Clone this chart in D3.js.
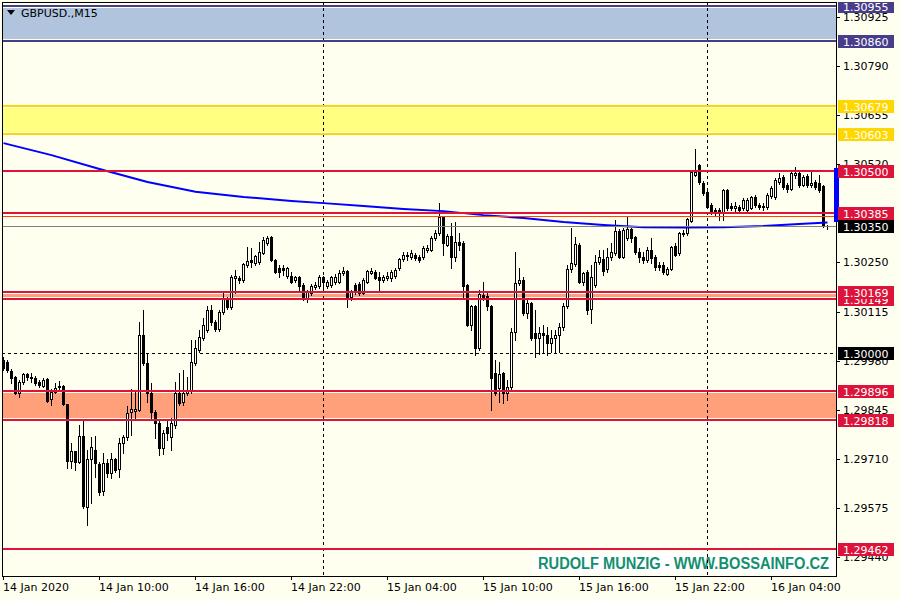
<!DOCTYPE html>
<html><head><meta charset="utf-8">
<script src="https://cdn.jsdelivr.net/npm/d3@7"></script>
<style>html,body{margin:0;padding:0;background:#fffff0;}svg{display:block;}</style>
</head><body>
<svg id="c" width="900" height="600"></svg>
<script>
const symbolTitle = "GBPUSD.,M15";
const opens = [1.29982,1.29976,1.29951,1.29935,1.29891,1.29921,1.29943,1.29932,1.29932,1.29921,
1.29910,1.29929,1.29874,1.29894,1.29907,1.29910,1.29861,1.29704,1.29731,1.29701,
1.29773,1.29577,1.29709,1.29734,1.29696,1.29621,1.29698,1.29671,1.29709,1.29682,
1.29753,1.29770,1.29839,1.29841,1.29844,1.30050,1.29973,1.29891,1.29839,1.29808,
1.29740,1.29797,1.29770,1.29803,1.29891,1.29866,1.29891,1.29899,1.29973,1.30009,
1.30042,1.30064,1.30119,1.30086,1.30067,1.30114,1.30149,1.30127,1.30207,1.30207,
1.30202,1.30243,1.30257,1.30248,1.30251,1.30276,1.30303,1.30320,1.30257,1.30235,
1.30235,1.30213,1.30213,1.30202,1.30210,1.30188,1.30149,1.30166,1.30182,1.30185,
1.30210,1.30185,1.30188,1.30196,1.30196,1.30221,1.30226,1.30155,1.30188,1.30191,
1.30166,1.30196,1.30221,1.30224,1.30210,1.30202,1.30207,1.30207,1.30213,1.30235,
1.30259,1.30268,1.30265,1.30270,1.30265,1.30265,1.30284,1.30284,1.30317,1.30331,
1.30375,1.30298,1.30323,1.30265,1.30306,1.30303,1.30188,1.30078,1.30130,1.30015,
1.30160,1.30158,1.30130,1.29946,1.29905,1.29946,1.29891,1.29907,1.30059,1.30193,
1.30202,1.30111,1.30138,1.30056,1.30042,1.30056,1.30050,1.30028,1.30042,1.30050,
1.30072,1.30130,1.30232,1.30246,1.30298,1.30196,1.30224,1.30122,1.30188,1.30251,
1.30259,1.30232,1.30265,1.30276,1.30336,1.30265,1.30317,1.30342,1.30320,1.30279,
1.30265,1.30257,1.30284,1.30265,1.30243,1.30243,1.30218,1.30232,1.30295,1.30276,
1.30328,1.30331,1.30364,1.30490,1.30518,1.30468,1.30444,1.30408,1.30394,1.30394,
1.30389,1.30449,1.30405,1.30400,1.30402,1.30400,1.30394,1.30400,1.30430,1.30408,
1.30405,1.30402,1.30433,1.30430,1.30471,1.30485,1.30463,1.30452,1.30490,1.30496,
1.30463,1.30488,1.30463,1.30471,1.30468,1.30460,1.30350];
const highs = [1.29990,1.29982,1.29957,1.29938,1.29927,1.29946,1.29946,1.29946,1.29938,1.29927,
1.29932,1.29932,1.29902,1.29918,1.29924,1.29913,1.29861,1.29753,1.29731,1.29803,
1.29817,1.29734,1.29770,1.29773,1.29701,1.29726,1.29709,1.29726,1.29712,1.29767,
1.29775,1.29855,1.29902,1.29899,1.30086,1.30119,1.30001,1.29918,1.29844,1.29814,
1.29789,1.29817,1.29822,1.29921,1.29946,1.29954,1.29935,1.30037,1.30037,1.30064,
1.30097,1.30130,1.30133,1.30092,1.30119,1.30166,1.30155,1.30215,1.30229,1.30213,
1.30248,1.30292,1.30290,1.30270,1.30306,1.30320,1.30323,1.30323,1.30259,1.30243,
1.30243,1.30237,1.30224,1.30213,1.30213,1.30193,1.30174,1.30191,1.30196,1.30215,
1.30213,1.30202,1.30213,1.30218,1.30229,1.30237,1.30229,1.30174,1.30193,1.30196,
1.30207,1.30229,1.30235,1.30229,1.30224,1.30215,1.30224,1.30229,1.30235,1.30262,
1.30279,1.30279,1.30284,1.30276,1.30270,1.30295,1.30298,1.30323,1.30339,1.30413,
1.30378,1.30328,1.30358,1.30361,1.30331,1.30309,1.30191,1.30133,1.30133,1.30174,
1.30196,1.30166,1.30133,1.29982,1.29976,1.29949,1.29927,1.30070,1.30279,1.30235,
1.30210,1.30147,1.30141,1.30119,1.30072,1.30078,1.30072,1.30064,1.30064,1.30083,
1.30138,1.30243,1.30345,1.30320,1.30303,1.30224,1.30229,1.30243,1.30270,1.30284,
1.30284,1.30290,1.30303,1.30367,1.30342,1.30345,1.30375,1.30345,1.30323,1.30290,
1.30279,1.30292,1.30317,1.30270,1.30251,1.30251,1.30237,1.30295,1.30303,1.30334,
1.30339,1.30372,1.30504,1.30562,1.30521,1.30474,1.30449,1.30413,1.30400,1.30400,
1.30452,1.30452,1.30413,1.30416,1.30408,1.30427,1.30427,1.30433,1.30435,1.30413,
1.30413,1.30441,1.30460,1.30482,1.30496,1.30490,1.30468,1.30499,1.30512,1.30499,
1.30490,1.30493,1.30504,1.30477,1.30490,1.30463,1.30353];
const lows = [1.29954,1.29949,1.29918,1.29888,1.29880,1.29916,1.29927,1.29921,1.29913,1.29907,
1.29907,1.29866,1.29858,1.29891,1.29899,1.29858,1.29685,1.29685,1.29679,1.29698,
1.29575,1.29528,1.29588,1.29660,1.29610,1.29610,1.29660,1.29657,1.29674,1.29660,
1.29726,1.29762,1.29775,1.29817,1.29841,1.29968,1.29866,1.29822,1.29767,1.29720,
1.29723,1.29762,1.29734,1.29795,1.29858,1.29858,1.29885,1.29891,1.29968,1.30004,
1.30037,1.30059,1.30078,1.30061,1.30061,1.30108,1.30122,1.30122,1.30166,1.30193,
1.30196,1.30237,1.30237,1.30243,1.30246,1.30273,1.30298,1.30254,1.30221,1.30210,
1.30215,1.30207,1.30193,1.30196,1.30169,1.30147,1.30141,1.30160,1.30177,1.30180,
1.30174,1.30180,1.30182,1.30191,1.30193,1.30215,1.30127,1.30147,1.30163,1.30160,
1.30163,1.30193,1.30218,1.30204,1.30174,1.30196,1.30202,1.30199,1.30207,1.30229,
1.30254,1.30257,1.30259,1.30257,1.30251,1.30259,1.30279,1.30281,1.30312,1.30325,
1.30270,1.30295,1.30235,1.30254,1.30284,1.30155,1.30075,1.30064,1.29995,1.30009,
1.30147,1.30119,1.29844,1.29885,1.29866,1.29863,1.29872,1.29899,1.30037,1.30188,
1.30105,1.30097,1.30037,1.29990,1.29998,1.30004,1.29995,1.30004,1.30004,1.30004,
1.30064,1.30125,1.30224,1.30240,1.30193,1.30188,1.30108,1.30083,1.30182,1.30246,
1.30215,1.30224,1.30257,1.30270,1.30262,1.30262,1.30312,1.30306,1.30273,1.30251,
1.30248,1.30251,1.30248,1.30229,1.30229,1.30218,1.30215,1.30229,1.30268,1.30270,
1.30323,1.30325,1.30361,1.30488,1.30466,1.30435,1.30400,1.30383,1.30380,1.30367,
1.30367,1.30394,1.30394,1.30391,1.30389,1.30394,1.30391,1.30397,1.30402,1.30397,
1.30394,1.30397,1.30427,1.30424,1.30466,1.30452,1.30444,1.30449,1.30482,1.30457,
1.30460,1.30457,1.30457,1.30452,1.30444,1.30347,1.30342];
const closes = [1.29960,1.29954,1.29932,1.29891,1.29921,1.29943,1.29935,1.29935,1.29918,1.29913,
1.29927,1.29869,1.29894,1.29905,1.29910,1.29861,1.29704,1.29731,1.29701,1.29773,
1.29580,1.29709,1.29742,1.29698,1.29619,1.29698,1.29671,1.29709,1.29679,1.29753,
1.29770,1.29836,1.29847,1.29847,1.30050,1.29973,1.29891,1.29839,1.29808,1.29740,
1.29781,1.29781,1.29808,1.29891,1.29863,1.29891,1.29899,1.29976,1.30015,1.30045,
1.30078,1.30119,1.30086,1.30067,1.30114,1.30152,1.30127,1.30210,1.30213,1.30202,
1.30246,1.30254,1.30251,1.30268,1.30279,1.30312,1.30317,1.30257,1.30224,1.30224,
1.30229,1.30235,1.30196,1.30210,1.30185,1.30149,1.30169,1.30185,1.30188,1.30210,
1.30196,1.30196,1.30210,1.30210,1.30221,1.30226,1.30152,1.30169,1.30169,1.30166,
1.30202,1.30226,1.30226,1.30207,1.30202,1.30210,1.30213,1.30224,1.30229,1.30259,
1.30270,1.30270,1.30276,1.30262,1.30257,1.30290,1.30290,1.30317,1.30331,1.30375,
1.30303,1.30323,1.30265,1.30306,1.30298,1.30185,1.30078,1.30130,1.30015,1.30163,
1.30155,1.30130,1.29932,1.29891,1.29943,1.29891,1.29907,1.30059,1.30193,1.30202,
1.30111,1.30138,1.30042,1.30042,1.30056,1.30050,1.30028,1.30042,1.30050,1.30072,
1.30130,1.30232,1.30248,1.30301,1.30196,1.30221,1.30119,1.30210,1.30251,1.30265,
1.30226,1.30265,1.30279,1.30336,1.30265,1.30339,1.30342,1.30317,1.30279,1.30265,
1.30257,1.30284,1.30262,1.30237,1.30237,1.30224,1.30232,1.30292,1.30270,1.30331,
1.30331,1.30369,1.30499,1.30499,1.30471,1.30441,1.30402,1.30389,1.30386,1.30386,
1.30449,1.30400,1.30400,1.30405,1.30394,1.30422,1.30422,1.30430,1.30408,1.30402,
1.30402,1.30435,1.30455,1.30477,1.30482,1.30457,1.30452,1.30496,1.30496,1.30463,
1.30485,1.30463,1.30468,1.30457,1.30449,1.30350,1.30350];

const maIndex  = [0,12,24,36,48,60,72,80,90,100,110,120,130,140,150,160,170,180,190,200,206];
const maValues = [1.30578,1.30545,1.30507,1.30471,1.30444,1.30430,1.30419,1.30413,1.30405,1.30397,1.30391,1.30380,1.30372,1.30361,1.30353,1.30347,1.30346,1.30347,1.30350,1.30356,1.30360];

const zoneTop    = [1.30955,1.30679,1.30169,1.29896];
const zoneBottom = [1.30860,1.30603,1.30149,1.29818];
const zoneFill   = ["#b0c4de","#ffff80","#ffa07a","#ffa07a"];
const zoneLine   = ["#483d8b","#ffd700","#dc143c","#dc143c"];
const levelPrices = [1.30500,1.30385,1.29462];
const orangeLevel = 1.30378;
const bidPrice = 1.30350;
const roundLevel = 1.30000;
const markerRange = [1.30509,1.30362];

const labelPrices = [1.30955,1.30860,1.30679,1.30603,1.30500,1.30385,1.30350,1.30149,1.30169,1.30000,1.29896,1.29818,1.29462];
const labelColors = ["#483d8b","#483d8b","#ffd700","#ffd700","#dc143c","#dc143c","#000000","#dc143c","#dc143c","#000000","#dc143c","#dc143c","#dc143c"];

const priceTicks = [1.30925,1.30790,1.30655,1.30520,1.30385,1.30250,1.30115,1.29980,1.29845,1.29710,1.29575,1.29440];
const timeTickIndex = [0,24,48,72,96,120,144,168,192];
const timeTickLabels = ["14 Jan 2020","14 Jan 10:00","14 Jan 16:00","14 Jan 22:00","15 Jan 04:00","15 Jan 10:00","15 Jan 16:00","15 Jan 22:00","16 Jan 04:00"];
const separatorIndex = [80,176];
const watermark = "RUDOLF MUNZIG - WWW.BOSSAINFO.CZ";

const W = 900, H = 600;
const L = 2, T = 2, R = 836, B = 576;
const FONT = "DejaVu Sans, Verdana, sans-serif";
const n = opens.length;
const svg = d3.select("#c");
const x = d3.scaleLinear().domain([0, n - 1]).range([3, 3 + 4 * (n - 1)]);
const y = d3.scaleLinear().domain([1.29462, 1.30955]).range([549, 6]);
const Y = p => Math.round(y(p));
const X = i => Math.round(x(i));

const defs = svg.append("defs");
defs.append("clipPath").attr("id", "plotClip").append("rect")
  .attr("x", L + 1).attr("y", T + 1).attr("width", R - L - 1).attr("height", B - T - 1);
defs.append("clipPath").attr("id", "labelClip").append("rect")
  .attr("x", 0).attr("y", T).attr("width", W).attr("height", H - T);

svg.append("rect").attr("width", W).attr("height", H).attr("fill", "#fffff0");

const g = svg.append("g").attr("clip-path", "url(#plotClip)").attr("shape-rendering", "crispEdges");

// zone fills (background)
g.selectAll("rect.zone").data(d3.range(zoneTop.length)).join("rect").attr("class", "zone")
  .attr("x", L).attr("width", R - L)
  .attr("y", k => Y(zoneTop[k]) + 2)
  .attr("height", k => Y(zoneBottom[k]) - Y(zoneTop[k]) - 4)
  .attr("fill", k => zoneFill[k]);

// watermark (background object)
g.append("rect").attr("x", 533).attr("y", 553).attr("width", 302).attr("height", 20).attr("fill", "#ffffff");
g.append("text").attr("x", 538).attr("y", 568.5)
  .attr("font-family", "Liberation Sans, Arial, sans-serif").attr("font-weight", "bold")
  .attr("font-size", 16).attr("textLength", 291).attr("lengthAdjust", "spacingAndGlyphs")
  .attr("fill", "#12906e").attr("shape-rendering", "auto").text(watermark);

// period separators
g.selectAll("line.sep").data(separatorIndex).join("line").attr("class", "sep")
  .attr("x1", i => X(i) + 0.5).attr("x2", i => X(i) + 0.5)
  .attr("y1", T).attr("y2", B)
  .attr("stroke", "#000").attr("stroke-width", 1).attr("stroke-dasharray", "3,3");

// round level dashed
g.append("line").attr("x1", L).attr("x2", R)
  .attr("y1", Y(roundLevel) + 0.5).attr("y2", Y(roundLevel) + 0.5)
  .attr("stroke", "#000").attr("stroke-width", 1).attr("stroke-dasharray", "3,3");

// candles
const idx = d3.range(n);
const cg = g.append("g");
cg.selectAll("rect.wick").data(idx).join("rect").attr("class", "wick")
  .attr("x", i => X(i)).attr("width", 1)
  .attr("y", i => Y(highs[i]))
  .attr("height", i => Math.max(1, Y(lows[i]) - Y(highs[i]) + 1))
  .attr("fill", "#000");
cg.selectAll("rect.body").data(idx).join("rect").attr("class", "body")
  .attr("x", i => X(i) - 1).attr("width", 3)
  .attr("y", i => Y(Math.max(opens[i], closes[i])))
  .attr("height", i => Math.max(1, Y(Math.min(opens[i], closes[i])) - Y(Math.max(opens[i], closes[i])) + 1))
  .attr("fill", "#000");
const bulls = idx.filter(i => closes[i] >= opens[i] && (Y(opens[i]) - Y(closes[i])) >= 2);
cg.selectAll("rect.inner").data(bulls).join("rect").attr("class", "inner")
  .attr("x", i => X(i)).attr("width", 1)
  .attr("y", i => Y(closes[i]) + 1)
  .attr("height", i => Y(opens[i]) - Y(closes[i]) - 1)
  .attr("fill", "#ffffff");

// moving average
const maLine = d3.line().x(k => x(maIndex[k]) + 0.5).y(k => y(maValues[k]));
g.append("path").attr("d", maLine(d3.range(maIndex.length)))
  .attr("fill", "none").attr("stroke", "#0000ff").attr("stroke-width", 2)
  .attr("shape-rendering", "auto");

// zone border lines
const zoneEdges = [];
zoneTop.forEach((p, k) => { zoneEdges.push({p: p, c: zoneLine[k]}); zoneEdges.push({p: zoneBottom[k], c: zoneLine[k]}); });
g.selectAll("rect.edge").data(zoneEdges).join("rect").attr("class", "edge")
  .attr("x", L).attr("width", R - L).attr("y", d => Y(d.p) - 1).attr("height", 2).attr("fill", d => d.c);

// level lines
g.selectAll("rect.level").data(levelPrices).join("rect").attr("class", "level")
  .attr("x", L).attr("width", R - L).attr("y", p => Y(p) - 1).attr("height", 2).attr("fill", "#dc143c");
g.append("rect").attr("x", L).attr("width", R - L).attr("y", Y(orangeLevel)).attr("height", 1).attr("fill", "#ff4500");
g.append("rect").attr("x", L).attr("width", R - L).attr("y", Y(bidPrice)).attr("height", 1).attr("fill", "#808080");

// frame
const fr = svg.append("g").attr("shape-rendering", "crispEdges");
fr.append("line").attr("x1", L + 0.5).attr("x2", L + 0.5).attr("y1", T).attr("y2", B + 1).attr("stroke", "#000");
fr.append("line").attr("x1", L).attr("x2", R + 1).attr("y1", T + 0.5).attr("y2", T + 0.5).attr("stroke", "#000");
fr.append("line").attr("x1", R + 0.5).attr("x2", R + 0.5).attr("y1", T).attr("y2", B + 1).attr("stroke", "#000");
fr.append("line").attr("x1", L).attr("x2", R + 1).attr("y1", B + 0.5).attr("y2", B + 0.5).attr("stroke", "#000");

// price axis ticks
const ax = svg.append("g");
ax.selectAll("line.pt").data(priceTicks).join("line").attr("class", "pt")
  .attr("x1", R).attr("x2", R + 4).attr("y1", p => Y(p) + 0.5).attr("y2", p => Y(p) + 0.5)
  .attr("stroke", "#000").attr("shape-rendering", "crispEdges");
ax.selectAll("text.pt").data(priceTicks).join("text").attr("class", "pt")
  .attr("x", R + 7).attr("y", p => Y(p) + 4)
  .attr("font-family", FONT).attr("font-size", 11).attr("fill", "#000")
  .text(p => p.toFixed(5));

// time axis
ax.selectAll("line.tt").data(timeTickIndex).join("line").attr("class", "tt")
  .attr("x1", i => X(i) + 0.5).attr("x2", i => X(i) + 0.5).attr("y1", B).attr("y2", B + 4)
  .attr("stroke", "#000").attr("shape-rendering", "crispEdges");
ax.selectAll("text.tt").data(timeTickIndex).join("text").attr("class", "tt")
  .attr("x", i => X(i)).attr("y", B + 15)
  .attr("font-family", FONT).attr("font-size", 11).attr("fill", "#000")
  .text((i, k) => timeTickLabels[k]);

// blue marker bar
svg.append("rect").attr("x", R - 2).attr("width", 5)
  .attr("y", Y(markerRange[0])).attr("height", Y(markerRange[1]) - Y(markerRange[0]))
  .attr("fill", "#0000ff").attr("shape-rendering", "crispEdges");

// price labels
const lg = svg.append("g").attr("clip-path", "url(#labelClip)");
const lab = lg.selectAll("g.lab").data(d3.range(labelPrices.length)).join("g").attr("class", "lab");
lab.append("rect").attr("x", R + 2).attr("width", 56)
  .attr("y", k => Y(labelPrices[k]) - 6).attr("height", 13)
  .attr("fill", k => labelColors[k]).attr("shape-rendering", "crispEdges");
lab.append("text").attr("x", R + 7).attr("y", k => Y(labelPrices[k]) + 4.5)
  .attr("font-family", FONT).attr("font-size", 11).attr("fill", "#fff")
  .text(k => labelPrices[k].toFixed(5));

// title
svg.append("path").attr("d", "M7,10 L15,10 L11,15 Z").attr("fill", "#000");
svg.append("text").attr("x", 21).attr("y", 17)
  .attr("font-family", FONT).attr("font-size", 11).attr("fill", "#000").text(symbolTitle);
</script>
</body></html>
